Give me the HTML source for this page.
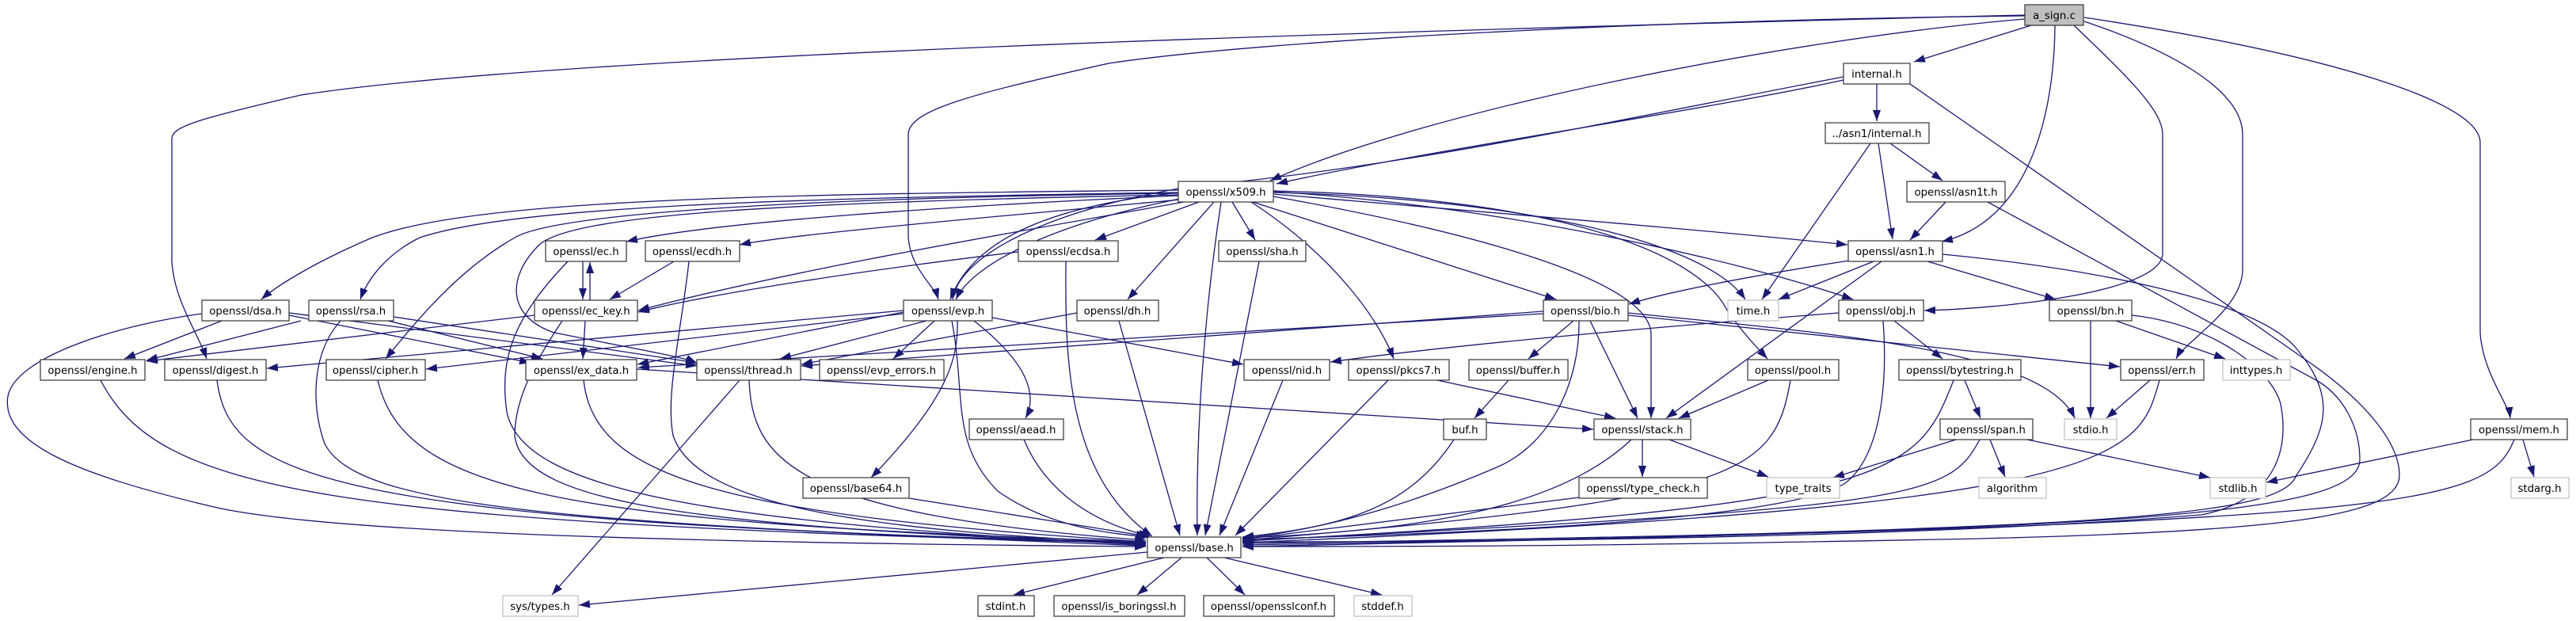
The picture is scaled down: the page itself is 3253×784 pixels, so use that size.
<!DOCTYPE html>
<html><head><meta charset="utf-8"><style>
html,body{margin:0;padding:0;background:#fff;}
svg{display:block;}
text{font-family:"DejaVu Sans","Liberation Sans",sans-serif;font-size:13.3px;fill:#000;}
</style></head><body>
<svg width="3253" height="784" viewBox="0 0 3253 784" xmlns="http://www.w3.org/2000/svg">
<defs>
<marker id="a" markerUnits="userSpaceOnUse" markerWidth="14" markerHeight="10" refX="14" refY="5" orient="auto"><path d="M0,0 L14,5 L0,10 z" fill="#191970"/></marker>
</defs>
<g fill="none" stroke="#191970" stroke-width="1.3" marker-end="url(#a)">
<path d="M2565,32 L2417,78"/>
<path d="M2557,24 C2250,50 1800,140 1604,228"/>
<path d="M2328,101 C2150,140 1800,190 1612,232"/>
<path d="M2328,97 C2050,150 1780,210 1500,236 C1300,270 1210,330 1203,378"/>
<path d="M2557,20 C2100,25 1600,50 1400,80 C1220,120 1147,140 1147,170 L1147,300 C1150,340 1180,360 1185,378"/>
<path d="M2557,19 C1700,40 700,70 380,120 C250,150 217,160 217,175 L217,330 C220,380 250,420 261,453"/>
<path d="M2595,32 C2594,150 2560,280 2452,305"/>
<path d="M2619,32 C2690,100 2731,140 2731,170 L2731,320 C2731,370 2520,390 2430,392"/>
<path d="M2632,27 C2730,60 2832,110 2832,170 L2832,340 C2832,390 2760,430 2748,453"/>
<path d="M2632,22 C2950,70 3132,130 3132,180 L3132,420 C3135,470 3168,510 3170,528"/>
<path d="M2370,106 L2370,153"/>
<path d="M2412,106 L2920,460 C2990,510 3030,560 3030,600 C3030,650 2900,670 2500,680 C2000,690 1800,690 1569,690"/>
<path d="M2387,181 L2453,228"/>
<path d="M2372,181 L2390,302"/>
<path d="M2362,181 L2225,378"/>
<path d="M2457,255 L2412,303"/>
<path d="M2510,255 L2925,480 C2960,500 2980,540 2980,580 C2980,650 2700,670 1569,688"/>
<path d="M2366,330 L2246,378"/>
<path d="M2335,329 C2200,350 2100,370 2057,384"/>
<path d="M2434,330 L2596,378"/>
<path d="M2376,330 L2104,528"/>
<path d="M2453,321 C2650,340 2850,380 2900,440 C2950,500 2940,540 2900,600 C2880,650 2700,670 1569,686"/>
<path d="M1488,240 C1000,245 600,250 470,300 C400,330 350,360 330,378"/>
<path d="M1488,243 C1000,250 650,260 530,300 C490,320 465,350 455,378"/>
<path d="M1488,247 C1200,260 900,280 791,305"/>
<path d="M1490,252 C1300,270 1000,295 934,309"/>
<path d="M1495,255 C1300,290 1000,340 806,392"/>
<path d="M1488,244 C1000,250 700,270 650,300 C580,340 530,400 487,453"/>
<path d="M1488,246 C1000,255 720,270 680,310 C640,350 640,400 700,420 C800,440 860,450 880,458"/>
<path d="M1488,243 C1330,260 1230,300 1200,378"/>
<path d="M1495,250 C1340,280 1230,330 1207,378"/>
<path d="M1514,255 L1383,303"/>
<path d="M1533,255 L1424,378"/>
<path d="M1556,255 L1585,303"/>
<path d="M1542,255 C1520,400 1510,550 1512,676"/>
<path d="M1580,255 C1680,320 1740,400 1760,453"/>
<path d="M1582,255 L1965,378"/>
<path d="M1608,248 C1900,300 2080,360 2085,420 L2085,528"/>
<path d="M1608,245 C1900,270 2150,290 2333,309"/>
<path d="M1608,243 C1900,250 2150,300 2204,378"/>
<path d="M1608,242 C1900,260 2200,330 2340,378"/>
<path d="M1608,241 C2000,250 2150,330 2180,390 C2200,420 2220,440 2232,453"/>
<path d="M736,330 L736,378"/>
<path d="M745,379 L745,331"/>
<path d="M717,330 C650,400 630,450 640,520 C660,620 900,660 1447,688"/>
<path d="M851,330 L770,378"/>
<path d="M870,330 C860,420 840,500 850,550 C880,640 1100,670 1447,686"/>
<path d="M1286,318 C1100,340 900,370 806,394"/>
<path d="M1346,330 C1345,450 1346,600 1455,677"/>
<path d="M739,405 L736,453"/>
<path d="M675,398 L185,456"/>
<path d="M710,405 C680,450 650,500 650,550 C660,640 900,665 1447,687"/>
<path d="M280,405 L157,453"/>
<path d="M365,398 L670,458"/>
<path d="M365,395 L880,462"/>
<path d="M255,396 C150,410 20,450 10,500 C0,560 100,600 270,640 C400,670 800,685 1447,690"/>
<path d="M380,405 L185,455"/>
<path d="M490,405 L685,453"/>
<path d="M497,400 L880,458"/>
<path d="M430,405 C390,450 395,520 410,560 C450,640 700,660 1447,689"/>
<path d="M1141,392 L337,465"/>
<path d="M1141,396 L538,466"/>
<path d="M1170,405 L985,453"/>
<path d="M1180,405 L1128,453"/>
<path d="M1253,401 L1570,460"/>
<path d="M1230,405 C1300,460 1310,500 1295,528"/>
<path d="M1209,405 C1210,450 1200,500 1100,603"/>
<path d="M1202,405 C1220,500 1200,560 1260,620 C1330,670 1420,675 1452,678"/>
<path d="M1141,394 L805,460"/>
<path d="M1360,395 L1012,460"/>
<path d="M1413,405 L1490,676"/>
<path d="M1590,330 L1522,676"/>
<path d="M1949,393 L1012,462"/>
<path d="M1949,396 L806,464"/>
<path d="M1987,405 L1930,453"/>
<path d="M2008,405 L2068,528"/>
<path d="M1994,405 C1995,480 1960,560 1890,590 C1750,650 1650,670 1569,680"/>
<path d="M2056,398 L2677,463"/>
<path d="M2056,395 C2300,420 2580,440 2620,528"/>
<path d="M2322,395 C2000,420 1800,440 1680,457"/>
<path d="M2392,405 L2453,453"/>
<path d="M2378,405 C2385,500 2370,580 2330,610 C2250,660 1800,675 1569,681"/>
<path d="M2640,405 L2640,528"/>
<path d="M2672,405 L2810,453"/>
<path d="M2692,398 C2800,410 2870,470 2880,510 C2890,560 2880,630 2780,650 C2400,680 1900,684 1569,684"/>
<path d="M2233,480 L2120,528"/>
<path d="M2261,480 C2240,600 2200,630 1569,682"/>
<path d="M2481,480 L2501,528"/>
<path d="M2467,480 C2420,600 2400,640 1569,683"/>
<path d="M2715,480 L2660,528"/>
<path d="M2727,480 C2700,580 2680,640 1569,685"/>
<path d="M1815,480 L2040,528"/>
<path d="M1753,480 L1560,676"/>
<path d="M1620,480 L1540,676"/>
<path d="M1905,480 L1862,528"/>
<path d="M1836,555 C1780,640 1700,665 1569,678"/>
<path d="M804,466 L2012,542"/>
<path d="M737,480 C750,600 900,650 1447,684"/>
<path d="M934,480 L697,751"/>
<path d="M946,480 C950,580 1000,650 1447,682"/>
<path d="M127,480 C200,620 400,660 1447,686"/>
<path d="M274,480 C290,600 400,660 1447,685"/>
<path d="M477,480 C510,620 700,660 1447,684"/>
<path d="M1293,555 C1320,620 1380,660 1452,677"/>
<path d="M1148,629 L1449,677"/>
<path d="M2074,555 L2074,602"/>
<path d="M2108,555 L2233,602"/>
<path d="M2060,555 C1970,640 1800,670 1569,679"/>
<path d="M1994,628 L1569,681"/>
<path d="M2470,555 L2315,603"/>
<path d="M2513,555 L2532,602"/>
<path d="M2560,555 L2791,603"/>
<path d="M2500,555 C2460,630 2420,640 1569,683"/>
<path d="M3123,555 L2862,609"/>
<path d="M3186,555 L3200,602"/>
<path d="M3175,555 C3140,640 3050,660 1569,690"/>
<path d="M1470,704 L1280,751"/>
<path d="M1492,704 L1436,751"/>
<path d="M1524,704 L1572,751"/>
<path d="M1546,704 L1745,751"/>
<path d="M1449,697 L731,764"/>
</g>
<g stroke="#333" stroke-width="1.2" fill="#fff">
<rect x="2557" y="6" width="74" height="26" fill="#bfbfbf"/>
<rect x="2328" y="80" width="84" height="26"/>
<rect x="2305" y="155" width="131" height="26"/>
<rect x="1488" y="229" width="120" height="26"/>
<rect x="2408" y="229" width="124" height="26"/>
<rect x="689" y="304" width="102" height="26"/>
<rect x="815" y="304" width="119" height="26"/>
<rect x="1286" y="304" width="126" height="26"/>
<rect x="1539" y="304" width="110" height="26"/>
<rect x="2334" y="304" width="119" height="26"/>
<rect x="255" y="379" width="110" height="26"/>
<rect x="390" y="379" width="107" height="26"/>
<rect x="675" y="379" width="130" height="26"/>
<rect x="1141" y="379" width="112" height="26"/>
<rect x="1360" y="379" width="103" height="26"/>
<rect x="1949" y="379" width="107" height="26"/>
<rect x="2322" y="379" width="107" height="26"/>
<rect x="2588" y="379" width="104" height="26"/>
<rect x="51" y="454" width="132" height="26"/>
<rect x="208" y="454" width="128" height="26"/>
<rect x="412" y="454" width="125" height="26"/>
<rect x="664" y="454" width="140" height="26"/>
<rect x="880" y="454" width="131" height="26"/>
<rect x="1035" y="454" width="157" height="26"/>
<rect x="1571" y="454" width="108" height="26"/>
<rect x="1703" y="454" width="127" height="26"/>
<rect x="1855" y="454" width="125" height="26"/>
<rect x="2207" y="454" width="115" height="26"/>
<rect x="2398" y="454" width="154" height="26"/>
<rect x="2678" y="454" width="105" height="26"/>
<rect x="1224" y="529" width="119" height="26"/>
<rect x="1823" y="529" width="54" height="26"/>
<rect x="2013" y="529" width="122" height="26"/>
<rect x="2450" y="529" width="117" height="26"/>
<rect x="3120" y="529" width="122" height="26"/>
<rect x="1014" y="603" width="134" height="26"/>
<rect x="1994" y="603" width="162" height="26"/>
<rect x="1449" y="678" width="118" height="26"/>
<rect x="1235" y="752" width="71" height="26"/>
<rect x="1331" y="752" width="165" height="26"/>
<rect x="1520" y="752" width="165" height="26"/>
</g>
<g stroke="#bfbfbf" stroke-width="1.2" fill="#fff">
<rect x="2182" y="379" width="64" height="26"/>
<rect x="2807" y="454" width="85" height="26"/>
<rect x="2607" y="529" width="66" height="26"/>
<rect x="2231" y="603" width="92" height="26"/>
<rect x="2499" y="603" width="85" height="26"/>
<rect x="2791" y="603" width="70" height="26"/>
<rect x="3171" y="603" width="73" height="26"/>
<rect x="635" y="752" width="95" height="26"/>
<rect x="1710" y="752" width="73" height="26"/>
</g>
<g text-anchor="middle">
<text x="2594" y="24">a_sign.c</text>
<text x="2370" y="98">internal.h</text>
<text x="2370" y="173">../asn1/internal.h</text>
<text x="1548" y="247">openssl/x509.h</text>
<text x="2470" y="247">openssl/asn1t.h</text>
<text x="740" y="322">openssl/ec.h</text>
<text x="874" y="322">openssl/ecdh.h</text>
<text x="1349" y="322">openssl/ecdsa.h</text>
<text x="1594" y="322">openssl/sha.h</text>
<text x="2393" y="322">openssl/asn1.h</text>
<text x="310" y="397">openssl/dsa.h</text>
<text x="443" y="397">openssl/rsa.h</text>
<text x="740" y="397">openssl/ec_key.h</text>
<text x="1197" y="397">openssl/evp.h</text>
<text x="1411" y="397">openssl/dh.h</text>
<text x="2002" y="397">openssl/bio.h</text>
<text x="2214" y="397">time.h</text>
<text x="2375" y="397">openssl/obj.h</text>
<text x="2640" y="397">openssl/bn.h</text>
<text x="117" y="472">openssl/engine.h</text>
<text x="272" y="472">openssl/digest.h</text>
<text x="474" y="472">openssl/cipher.h</text>
<text x="734" y="472">openssl/ex_data.h</text>
<text x="945" y="472">openssl/thread.h</text>
<text x="1113" y="472">openssl/evp_errors.h</text>
<text x="1625" y="472">openssl/nid.h</text>
<text x="1766" y="472">openssl/pkcs7.h</text>
<text x="1917" y="472">openssl/buffer.h</text>
<text x="2264" y="472">openssl/pool.h</text>
<text x="2475" y="472">openssl/bytestring.h</text>
<text x="2730" y="472">openssl/err.h</text>
<text x="2849" y="472">inttypes.h</text>
<text x="1283" y="547">openssl/aead.h</text>
<text x="1850" y="547">buf.h</text>
<text x="2074" y="547">openssl/stack.h</text>
<text x="2508" y="547">openssl/span.h</text>
<text x="2640" y="547">stdio.h</text>
<text x="3181" y="547">openssl/mem.h</text>
<text x="1081" y="621">openssl/base64.h</text>
<text x="2075" y="621">openssl/type_check.h</text>
<text x="2277" y="621">type_traits</text>
<text x="2541" y="621">algorithm</text>
<text x="2826" y="621">stdlib.h</text>
<text x="3207" y="621">stdarg.h</text>
<text x="1508" y="696">openssl/base.h</text>
<text x="682" y="770">sys/types.h</text>
<text x="1270" y="770">stdint.h</text>
<text x="1413" y="770">openssl/is_boringssl.h</text>
<text x="1602" y="770">openssl/opensslconf.h</text>
<text x="1746" y="770">stddef.h</text>
</g>
</svg>
</body></html>
